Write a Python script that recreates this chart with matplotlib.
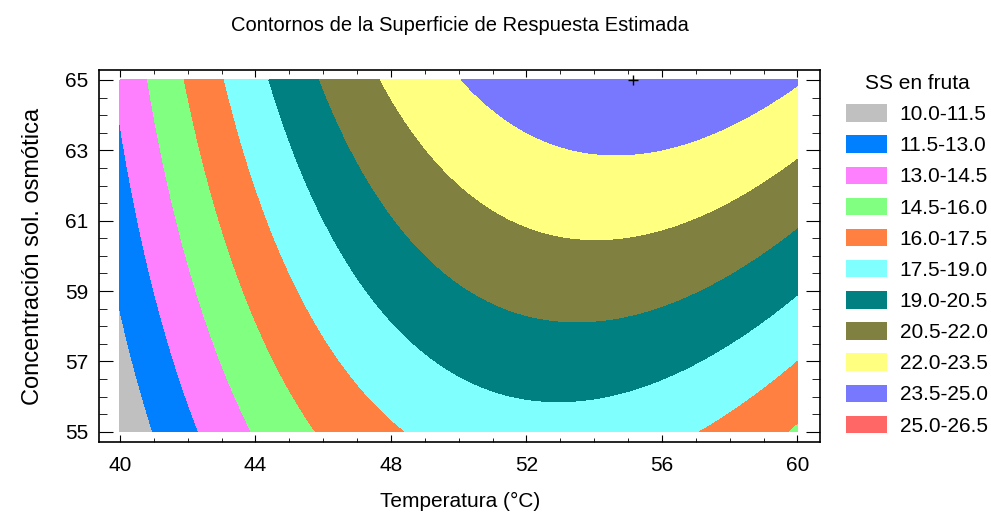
import numpy as np
import matplotlib.pyplot as plt
from matplotlib.patches import Patch
from matplotlib.ticker import MultipleLocator

plt.rcParams['font.family'] = ['Liberation Sans', 'DejaVu Sans']

# modelo cuadratico ajustado (variables centradas en T=50, C=60)
centro = [50.0, 60.0]
b0 = 20.93
b_lin = [0.3945, 0.5407]      # T, C
b_cuad = [-0.050, -0.007]     # T^2, C^2
b_int = 0.0242                # T*C

temp = [40, 60]
conc = [55, 65]
ticks_t = [40, 44, 48, 52, 56, 60]
ticks_c = [55, 57, 59, 61, 63, 65]
niveles = [10.0, 11.5, 13.0, 14.5, 16.0, 17.5, 19.0, 20.5, 22.0, 23.5, 25.0, 26.5]
colores = ['#c0c0c0', '#0080ff', '#ff80ff', '#80ff80', '#ff8040', '#80ffff',
           '#008080', '#808040', '#ffff80', '#7878ff', '#ff6666']
optimo = [55.15, 65.0]


def respuesta(t, c):
    u = t - centro[0]
    v = c - centro[1]
    return (b0 + b_lin[0] * u + b_lin[1] * v + b_cuad[0] * u ** 2
            + b_cuad[1] * v ** 2 + b_int * u * v)


T, C = np.meshgrid(np.linspace(temp[0], temp[1], 400), np.linspace(conc[0], conc[1], 400))
Z = respuesta(T, C)

fig = plt.figure(figsize=(9.91, 5.15), dpi=100)
ax = fig.add_axes([0.1004, 0.1417, 0.7270, 0.7224])
ax.contourf(T, C, Z, levels=niveles, colors=colores)
ax.plot(optimo[0], optimo[1], marker='+', color='black', ms=7, mew=1, clip_on=False)

ax.set_xlim(39.395, 60.664)
ax.set_ylim(54.707, 65.284)
ax.set_xticks(ticks_t)
ax.set_yticks(ticks_c)
ax.xaxis.set_minor_locator(MultipleLocator(1))
ax.yaxis.set_minor_locator(MultipleLocator(0.5))
ax.tick_params(axis='both', which='both', direction='in', top=True, right=True, labelsize=15)
ax.tick_params(axis='x', which='major', length=5, pad=10)
ax.tick_params(axis='x', which='minor', length=3)
ax.tick_params(axis='y', which='major', length=10, pad=8)
ax.tick_params(axis='y', which='minor', length=6)
for s in ax.spines.values():
    s.set_linewidth(1.2)

ax.set_xlabel('Temperatura (°C)', fontsize=15, labelpad=12)
ax.set_ylabel('Concentración sol. osmótica', fontsize=17, labelpad=15)
ax.set_title('Contornos de la Superficie de Respuesta Estimada', fontsize=14.5, pad=28)

etiquetas = [f'{niveles[i]:.1f}-{niveles[i + 1]:.1f}' for i in range(len(colores))]
manejadores = [Patch(facecolor=col, edgecolor='none') for col in colores]
fig.legend(manejadores, etiquetas, title='SS en fruta', loc='upper left',
           bbox_to_anchor=(846 / 991, 1 - 74 / 515), frameon=False, fontsize=15,
           title_fontsize=15, handlelength=1.97, handleheight=0.91,
           labelspacing=0.54, handletextpad=0.6, borderpad=0, borderaxespad=0)

fig.savefig('out.png', dpi=100)
